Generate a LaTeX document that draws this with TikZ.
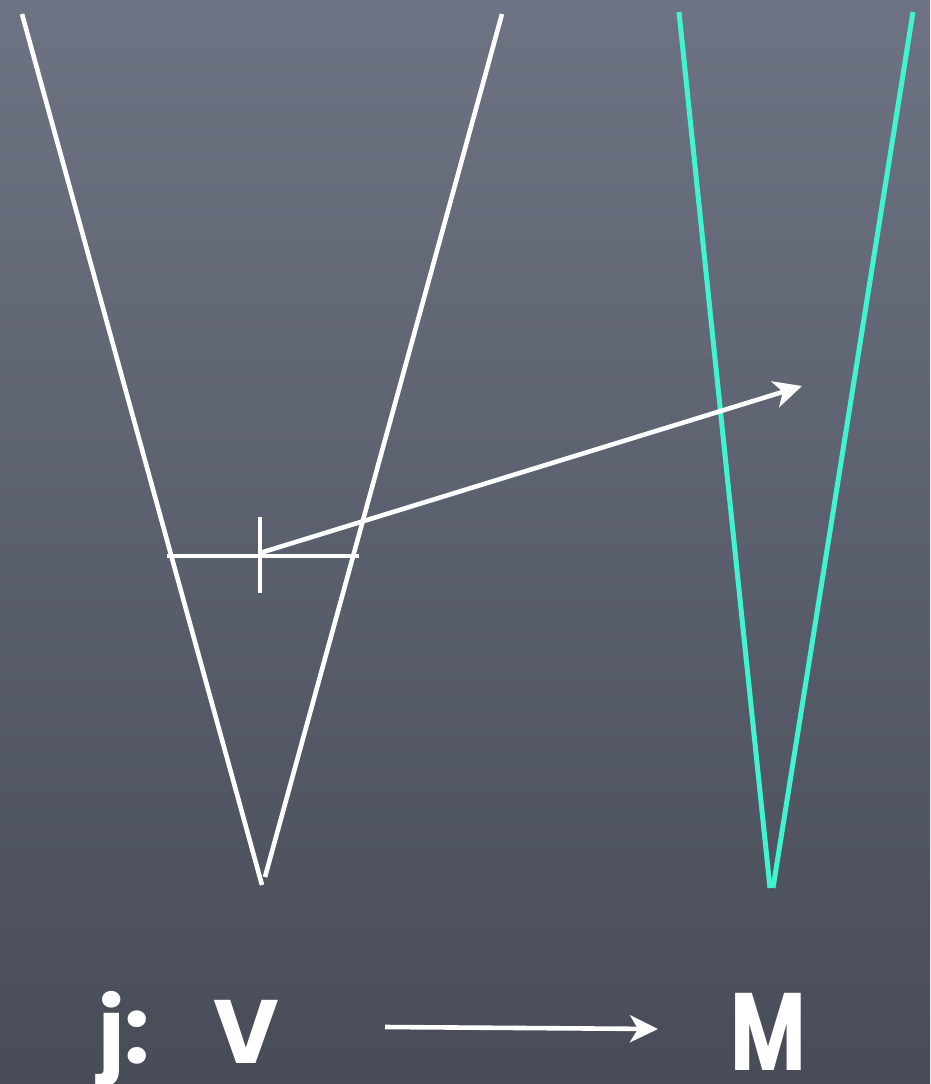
\documentclass[tikz,border=0pt]{standalone}
\usepackage{fontspec}
\newfontfamily\chalk{Poppins}
\usetikzlibrary{arrows.meta}
\definecolor{bgtop}{RGB}{110,115,131}
\definecolor{bgbot}{RGB}{72,76,88}
\definecolor{aqua}{RGB}{64,244,208}
\tikzset{
  chalkline/.style={white, line width=4.6pt},
  aqualine/.style={aqua, line width=5pt},
  chalkarrow/.style={white, line width=4.6pt, -{Stealth[length=28pt,width=27pt,inset=8pt]}},
  label/.style={white, font=\chalk\fontsize{90}{90}\selectfont\bfseries, inner sep=0pt},
  biglabel/.style={white, font=\chalk\fontsize{110}{110}\selectfont\bfseries, inner sep=0pt}
}
\begin{document}
\begin{tikzpicture}[x=1pt,y=-1pt]
\shade[top color=bgtop, bottom color=bgbot] (0,0) rectangle (930,1084);
\useasboundingbox (0,0) rectangle (930,1084);
% white cone
\coordinate (wl) at (22,14);
\coordinate (wr) at (502,14);
\coordinate (wb1) at (262,885);
\coordinate (wb2) at (265,877);
\draw[chalkline] (wl) -- (wb1);
\draw[chalkline] (wr) -- (wb2);
% cyan cone
\coordinate (cl) at (679,12);
\coordinate (cr) at (913,12);
\coordinate (cb1) at (770,888);
\coordinate (cb2) at (773,888);
\draw[aqualine] (cl) -- (cb1);
\draw[aqualine] (cr) -- (cb2);
% horizontal cut and tick
\coordinate (hl) at (167,556);
\coordinate (hr) at (359,556);
\draw[chalkline] (hl) -- (hr);
\coordinate (tt) at (260,517);
\coordinate (tb) at (260,593);
\draw[chalkline] (tt) -- (tb);
% arrow
\coordinate (p) at (260,553);
\coordinate (q) at (802,386);
\draw[chalkarrow] (p) -- (q);
% bottom labels
\node[label, anchor=base west] (jv) at (98,1063) {j:\hspace{0.7em}V};
\node[biglabel, anchor=base west, xscale=0.75] (m) at (730,1070) {M};
\coordinate (a1) at (385,1027);
\coordinate (a2) at (658,1029);
\draw[chalkarrow] (a1) -- (a2);
\end{tikzpicture}
\end{document}
